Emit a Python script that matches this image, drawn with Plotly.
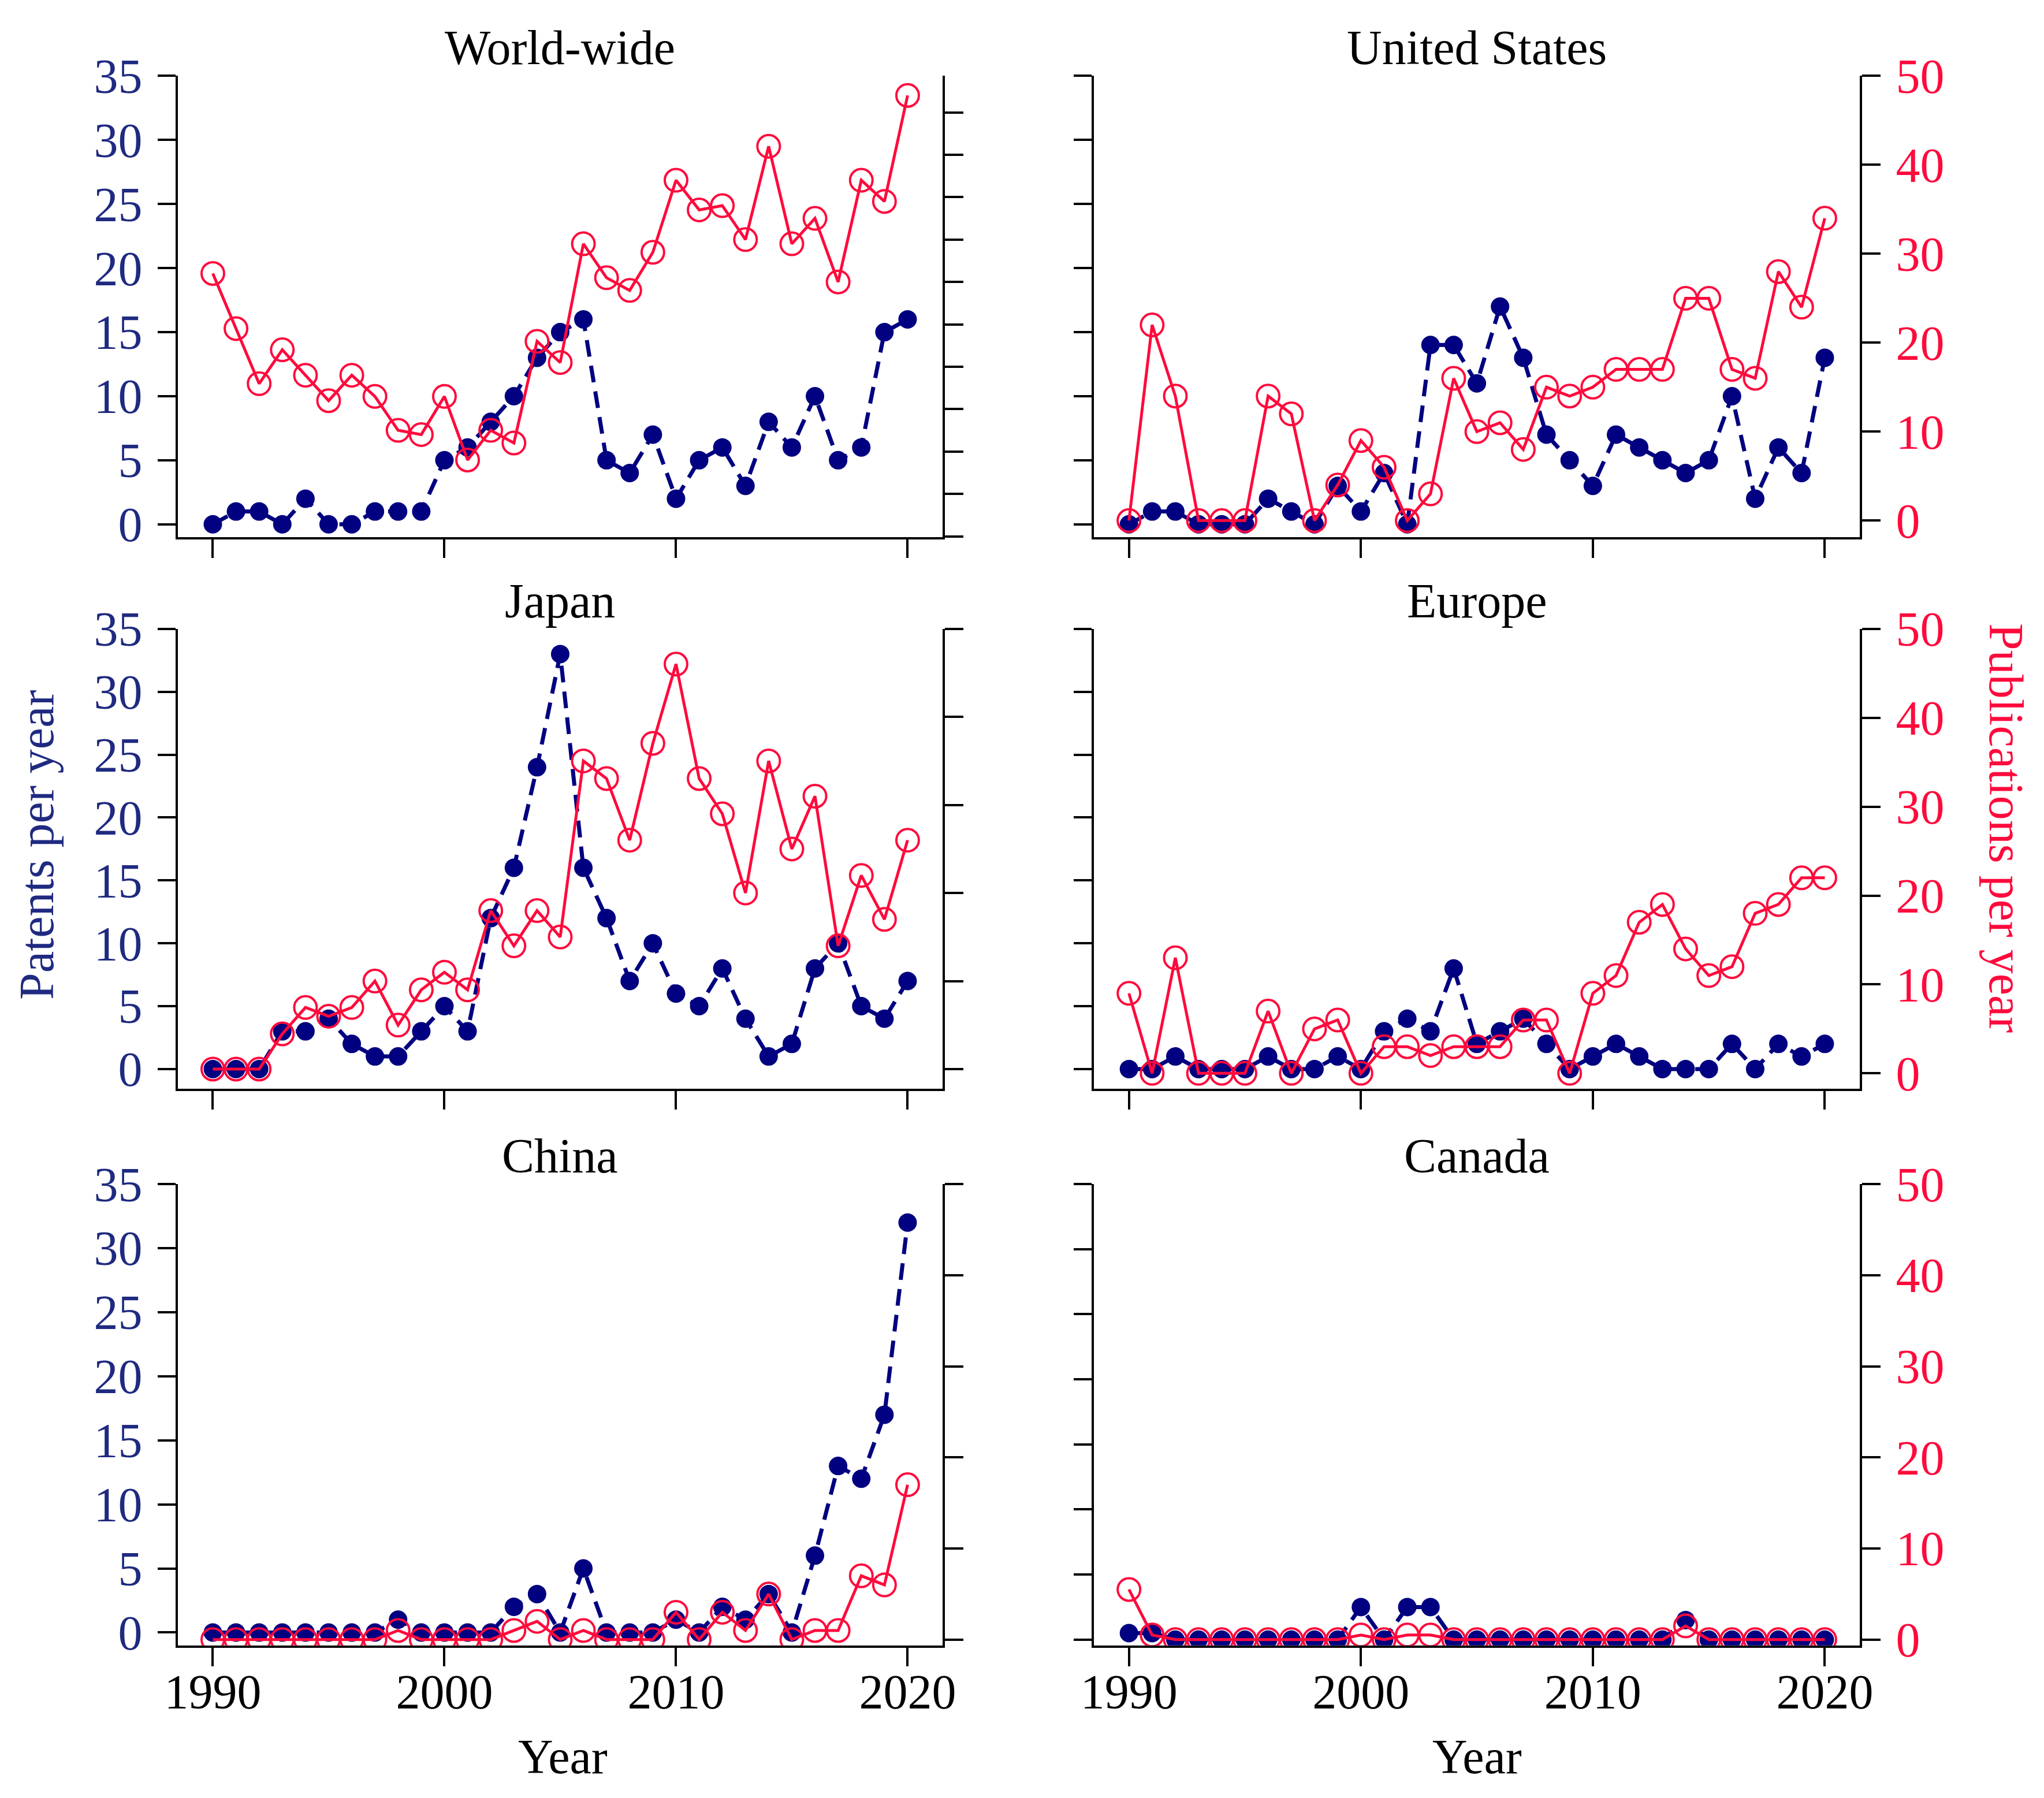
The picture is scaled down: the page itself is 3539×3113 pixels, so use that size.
import plotly.graph_objects as go

# ---------------- data ----------------
years = list(range(1990, 2021))

ww_patents = [0, 1, 1, 0, 2, 0, 0, 1, 1, 1, 5, 6, 8, 10, 13, 15, 16, 5, 4, 7, 2, 5, 6, 3, 8, 6, 10, 5, 6, 15, 16]
ww_pubs = [62, 49, 36, 44, 38, 32, 38, 33, 25, 24, 33, 18, 25, 22, 46, 41, 69, 61, 58, 67, 84, 77, 78, 70, 92, 69, 75, 60, 84, 79, 104]

us_patents = [0, 1, 1, 0, 0, 0, 2, 1, 0, 3, 1, 4, 0, 14, 14, 11, 17, 13, 7, 5, 3, 7, 6, 5, 4, 5, 10, 2, 6, 4, 13]
us_pubs = [0, 22, 14, 0, 0, 0, 14, 12, 0, 4, 9, 6, 0, 3, 16, 10, 11, 8, 15, 14, 15, 17, 17, 17, 25, 25, 17, 16, 28, 24, 34]

jp_patents = [0, 0, 0, 3, 3, 4, 2, 1, 1, 3, 5, 3, 12, 16, 24, 33, 16, 12, 7, 10, 6, 5, 8, 4, 1, 2, 8, 10, 5, 4, 7]
jp_pubs = [0, 0, 0, 4, 7, 6, 7, 10, 5, 9, 11, 9, 18, 14, 18, 15, 35, 33, 26, 37, 46, 33, 29, 20, 35, 25, 31, 14, 22, 17, 26]

eu_patents = [0, 0, 1, 0, 0, 0, 1, 0, 0, 1, 0, 3, 4, 3, 8, 2, 3, 4, 2, 0, 1, 2, 1, 0, 0, 0, 2, 0, 2, 1, 2]
eu_pubs = [9, 0, 13, 0, 0, 0, 7, 0, 5, 6, 0, 3, 3, 2, 3, 3, 3, 6, 6, 0, 9, 11, 17, 19, 14, 11, 12, 18, 19, 22, 22]

cn_patents = [0, 0, 0, 0, 0, 0, 0, 0, 1, 0, 0, 0, 0, 2, 3, 0, 5, 0, 0, 0, 1, 0, 2, 1, 3, 0, 6, 13, 12, 17, 32]
cn_pubs = [0, 0, 0, 0, 0, 0, 0, 0, 1, 0, 0, 0, 0, 1, 2, 0, 1, 0, 0, 0, 3, 0, 3, 1, 5, 0, 1, 1, 7, 6, 17]

ca_patents = [0.5, 0.5, 0, 0, 0, 0, 0, 0, 0, 0, 2.5, 0, 2.5, 2.5, 0, 0, 0, 0, 0, 0, 0, 0, 0, 0, 1.5, 0, 0, 0, 0, 0, 0]
ca_pubs = [5.5, 0.5, 0, 0, 0, 0, 0, 0, 0, 0, 0.5, 0, 0.5, 0.5, 0, 0, 0, 0, 0, 0, 0, 0, 0, 0, 1.5, 0, 0, 0, 0, 0, 0]

titles = ["World-wide", "United States", "Japan", "Europe", "China", "Canada"]
x_ticks = [1990, 2000, 2010, 2020]
patent_ticks = [0, 5, 10, 15, 20, 25, 30, 35]
pub_ticks = [0, 10, 20, 30, 40, 50]
ww_pub_ticks = [0, 10, 20, 30, 40, 50, 60, 70, 80, 90, 100]

patents = [ww_patents, us_patents, jp_patents, eu_patents, cn_patents, ca_patents]
pubs = [ww_pubs, us_pubs, jp_pubs, eu_pubs, cn_pubs, ca_pubs]

# ---------------- style ----------------
W, H = 3539, 3113
FONT = "Liberation Serif"
NAVY = "#000080"
NAVY_TXT = "#1f2a80"
RED = "#FF0A3C"


# the captured page is slightly shrunk/offset; map target picture pixels to figure pixels
def fx(t):
    return 1769.5 + (t - 1776.0) / 0.987


def fy(t):
    return 1556.5 + (t - 1566.5) / 0.974


col_px = [(fx(306), fx(1630)), (fx(1893), fx(3219))]
row_px = [(fy(128), fy(927)), (fy(1086), fy(1883)), (fy(2048), fy(2847))]
left_ranges = [[-1.0, 35], [-1.0, 35], [-1.58, 35], [-1.58, 35], [-1.0, 35], [-0.44, 35]]
right_ranges = [[-0.19, 108.6], [-1.86, 50], [-2.25, 50], [-1.75, 50], [-0.63, 50], [-0.63, 50]]

fig = go.Figure()
layout = {}
annotations = []

for i in range(6):
    r, c = divmod(i, 2)
    x0, x1 = col_px[c]
    y0, y1 = row_px[r]
    xdom = [x0 / W, x1 / W]
    ydom = [1 - y1 / H, 1 - y0 / H]
    xn = i + 1
    yl = 2 * i + 1
    yr = 2 * i + 2
    xname = "xaxis" if xn == 1 else f"xaxis{xn}"
    ylname = "yaxis" if yl == 1 else f"yaxis{yl}"
    yrname = f"yaxis{yr}"
    xref = "x" if xn == 1 else f"x{xn}"
    ylref = "y" if yl == 1 else f"y{yl}"
    yrref = f"y{yr}"

    layout[xname] = dict(
        domain=xdom, anchor=ylref, range=[1988.5, 2021.5],
        tickmode="array", tickvals=x_ticks, ticktext=[str(v) for v in x_ticks],
        ticks="outside", ticklen=32, tickwidth=4, tickcolor="black",
        showline=True, linewidth=4, linecolor="black",
        showgrid=False, zeroline=False,
        showticklabels=(r == 2),
        tickfont=dict(family=FONT, size=84, color="black"),
        ticklabelstandoff=-27,
    )
    layout[ylname] = dict(
        domain=ydom, anchor=xref, range=left_ranges[i],
        tickmode="array", tickvals=patent_ticks, ticktext=[str(v) for v in patent_ticks],
        ticks="outside", ticklen=31, tickwidth=4, tickcolor="black",
        showline=True, linewidth=4, linecolor="black",
        showgrid=False, zeroline=False,
        showticklabels=(c == 0),
        tickfont=dict(family=FONT, size=84, color=NAVY_TXT),
        ticklabelstandoff=10,
    )
    rt = ww_pub_ticks if i == 0 else pub_ticks
    layout[yrname] = dict(
        domain=ydom, anchor=xref, overlaying=ylref, side="right",
        range=right_ranges[i],
        tickmode="array", tickvals=rt, ticktext=[str(v) for v in rt],
        ticks="outside", ticklen=32, tickwidth=4, tickcolor="black",
        showline=True, linewidth=4, linecolor="black",
        showgrid=False, zeroline=False,
        showticklabels=(c == 1),
        tickfont=dict(family=FONT, size=84, color=RED),
        ticklabelstandoff=10,
    )

    fig.add_trace(go.Scatter(
        x=years, y=patents[i], xaxis=xref, yaxis=ylref, mode="lines+markers",
        line=dict(color=NAVY, width=7, dash="29px,16px"),
        marker=dict(color=NAVY, size=32, symbol="circle"),
        showlegend=False, name="Patents",
    ))
    fig.add_trace(go.Scatter(
        x=years, y=pubs[i], xaxis=xref, yaxis=yrref, mode="lines+markers",
        line=dict(color=RED, width=5),
        marker=dict(color=RED, size=39, symbol="circle-open", line=dict(width=4, color=RED)),
        showlegend=False, name="Publications",
    ))

    annotations.append(dict(
        text=titles[i], x=(x0 + x1) / 2 / W, y=1 - (y0 - 50) / H,
        xref="paper", yref="paper", xanchor="center", yanchor="middle",
        showarrow=False, font=dict(family=FONT, size=84, color="black"),
    ))

# axis titles
annotations.append(dict(
    text="Patents per year", x=fx(61) / W, y=1 - fy(1460) / H, xref="paper", yref="paper",
    xanchor="center", yanchor="middle", textangle=-90, showarrow=False,
    font=dict(family=FONT, size=84, color=NAVY_TXT),
))
annotations.append(dict(
    text="Publications per year", x=fx(3473) / W, y=1 - fy(1431) / H, xref="paper", yref="paper",
    xanchor="center", yanchor="middle", textangle=90, showarrow=False,
    font=dict(family=FONT, size=84, color=RED),
))
for cx in [973, 2556]:
    annotations.append(dict(
        text="Year", x=fx(cx) / W, y=1 - fy(3040) / H, xref="paper", yref="paper",
        xanchor="center", yanchor="middle", showarrow=False,
        font=dict(family=FONT, size=84, color="black"),
    ))

fig.update_layout(
    width=W, height=H, margin=dict(l=0, r=0, t=0, b=0),
    paper_bgcolor="white", plot_bgcolor="white",
    annotations=annotations, **layout,
)

fig.write_html("out.html")
